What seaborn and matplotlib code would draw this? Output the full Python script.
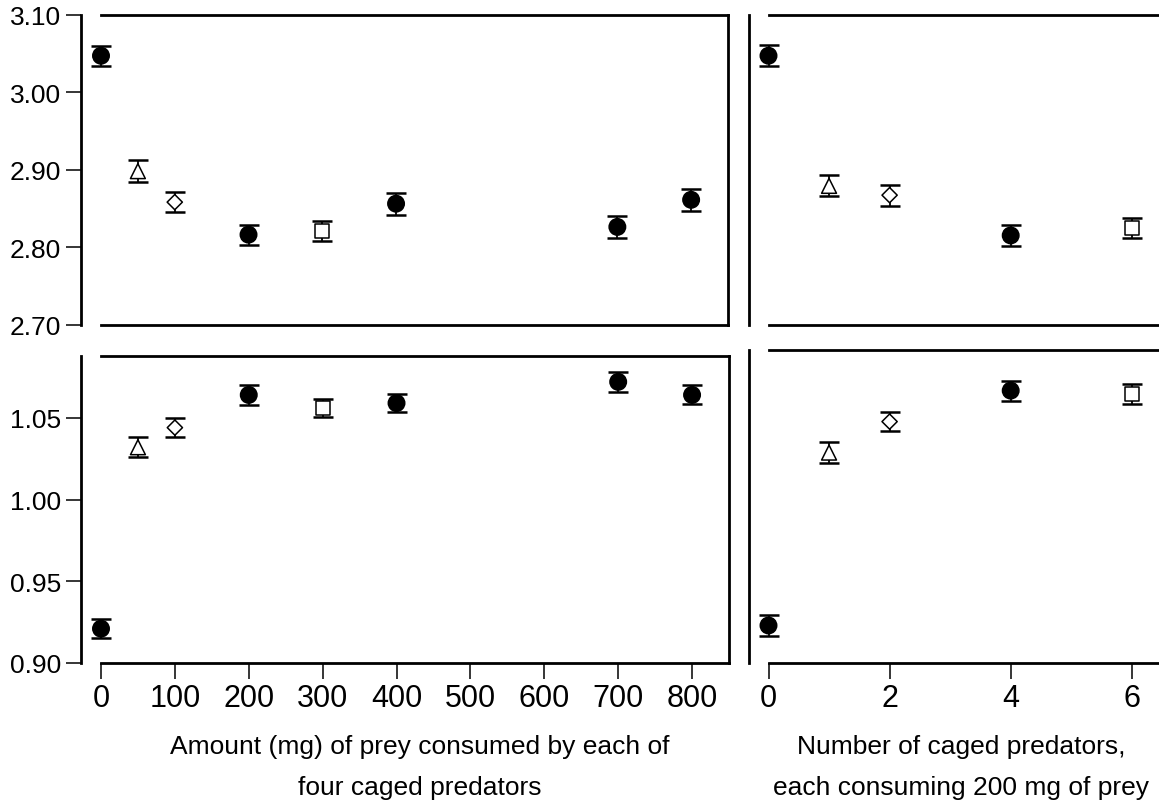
import matplotlib
matplotlib.use("Agg")
import matplotlib.pyplot as plt
import numpy as np
import pandas as pd
import seaborn as sns

# ---------------- data ----------------
amount_mg = [0, 50, 100, 200, 300, 400, 700, 800]
amount_shape = ["circle", "triangle", "diamond", "circle", "square", "circle", "circle", "circle"]
amount_top = [3.047, 2.898, 2.858, 2.816, 2.821, 2.856, 2.826, 2.861]
amount_top_err = [0.013, 0.014, 0.013, 0.013, 0.013, 0.014, 0.014, 0.014]
amount_bot = [0.921, 1.032, 1.044, 1.064, 1.056, 1.059, 1.072, 1.064]
amount_bot_err = [0.006, 0.006, 0.006, 0.006, 0.0055, 0.0057, 0.006, 0.0058]

n_predators = [0, 1, 2, 4, 6]
pred_shape = ["circle", "triangle", "diamond", "circle", "square"]
pred_top = [3.047, 2.879, 2.867, 2.815, 2.825]
pred_top_err = [0.0135, 0.0135, 0.0135, 0.013, 0.013]
pred_bot = [0.923, 1.029, 1.048, 1.067, 1.065]
pred_bot_err = [0.0066, 0.0062, 0.006, 0.0061, 0.0061]

top_yticks = [2.70, 2.80, 2.90, 3.00, 3.10]
bot_yticks = [0.90, 0.95, 1.00, 1.05]
amount_xticks = [0, 100, 200, 300, 400, 500, 600, 700, 800]
pred_xticks = [0, 2, 4, 6]

xlabel_left = ["Amount (mg) of prey consumed by each of", "four caged predators"]
xlabel_right = ["Number of caged predators,", "each consuming 200 mg of prey"]

# ---------------- style ----------------
sns.set_theme(style="white")
plt.rcParams["font.family"] = ["Liberation Sans", "DejaVu Sans"]
plt.rcParams["axes.linewidth"] = 2.0
plt.rcParams["axes.edgecolor"] = "black"
plt.rcParams["text.color"] = "black"

markers = {"circle": "o", "triangle": "^", "diamond": "D", "square": "s"}
palette = {"circle": "black", "triangle": "white", "diamond": "white", "square": "white"}
sizes = {"circle": 140, "triangle": 115, "diamond": 60, "square": 105}

W, H = 1159, 803
fig = plt.figure(figsize=(W / 100, H / 100), dpi=100)


def fr(x0, y0, x1, y1):
    return [x0 / W, 1 - y1 / H, (x1 - x0) / W, (y1 - y0) / H]


ax_tl = fig.add_axes(fr(101, 15.7, 728, 325.5))
ax_bl = fig.add_axes(fr(101, 356.7, 729, 664))
ax_tr = fig.add_axes(fr(768.5, 15.7, 1159, 325.5))
ax_br = fig.add_axes(fr(768.5, 351, 1159, 664))


def draw(ax, x, y, err, shape):
    df = pd.DataFrame({"x": x, "y": y, "shape": shape})
    ax.errorbar(x, y, yerr=err, fmt="none", ecolor="black", elinewidth=1.3,
                capsize=7.5, capthick=1.8, zorder=2, clip_on=False)
    sns.scatterplot(data=df, x="x", y="y", hue="shape", style="shape", size="shape",
                    markers=markers, palette=palette, sizes=sizes, edgecolor="black",
                    linewidth=1.1, legend=False, ax=ax, zorder=3, clip_on=False)
    ax.set_xlabel("")
    ax.set_ylabel("")


draw(ax_tl, amount_mg, amount_top, amount_top_err, amount_shape)
draw(ax_bl, amount_mg, amount_bot, amount_bot_err, amount_shape)
draw(ax_tr, n_predators, pred_top, pred_top_err, pred_shape)
draw(ax_br, n_predators, pred_bot, pred_bot_err, pred_shape)

for ax in (ax_tl, ax_bl):
    ax.set_xlim(0, 850)
for ax in (ax_tr, ax_br):
    ax.set_xlim(0, (1159 - 768.5) / 60.55)

ax_tl.set_ylim(2.70, 3.10)
ax_tr.set_ylim(2.70, 3.10)
ax_bl.set_ylim(0.90, 1.088)
ax_br.set_ylim(0.90, 1.0919)

for ax in (ax_tl, ax_bl, ax_tr, ax_br):
    for s in ax.spines.values():
        s.set_linewidth(2.0)
        s.set_color("black")
    ax.spines["left"].set_position(("outward", 14.4))
    ax.grid(False)

for ax in (ax_tr, ax_br):
    ax.spines["right"].set_visible(False)
    ax.tick_params(axis="y", left=False, labelleft=False)

ax_tl.set_yticks(top_yticks)
ax_tl.set_yticklabels([f"{v:.2f}" for v in top_yticks])
ax_bl.set_yticks(bot_yticks)
ax_bl.set_yticklabels([f"{v:.2f}" for v in bot_yticks])
for ax in (ax_tl, ax_bl):
    ax.tick_params(axis="y", left=True, direction="out", length=10.8, width=1.1,
                   pad=3.4, labelsize=19, colors="black")

for ax in (ax_tl, ax_tr):
    ax.tick_params(axis="x", bottom=False, labelbottom=False)

ax_bl.set_xticks(amount_xticks)
ax_bl.set_xticklabels([str(v) for v in amount_xticks])
ax_br.set_xticks(pred_xticks)
ax_br.set_xticklabels([str(v) for v in pred_xticks])
for ax in (ax_bl, ax_br):
    ax.tick_params(axis="x", bottom=True, direction="out", length=11.5, width=1.1,
                   pad=3.0, labelsize=22, colors="black")

fig.text(419.5 / W, 1 - 754 / H, xlabel_left[0], ha="center", va="baseline", fontsize=19, color="black")
fig.text(419.5 / W, 1 - 795 / H, xlabel_left[1], ha="center", va="baseline", fontsize=19, color="black")
fig.text(961 / W, 1 - 754 / H, xlabel_right[0], ha="center", va="baseline", fontsize=19, color="black")
fig.text(961 / W, 1 - 795 / H, xlabel_right[1], ha="center", va="baseline", fontsize=19, color="black")

fig.savefig("out.png", dpi=100, facecolor="white")
